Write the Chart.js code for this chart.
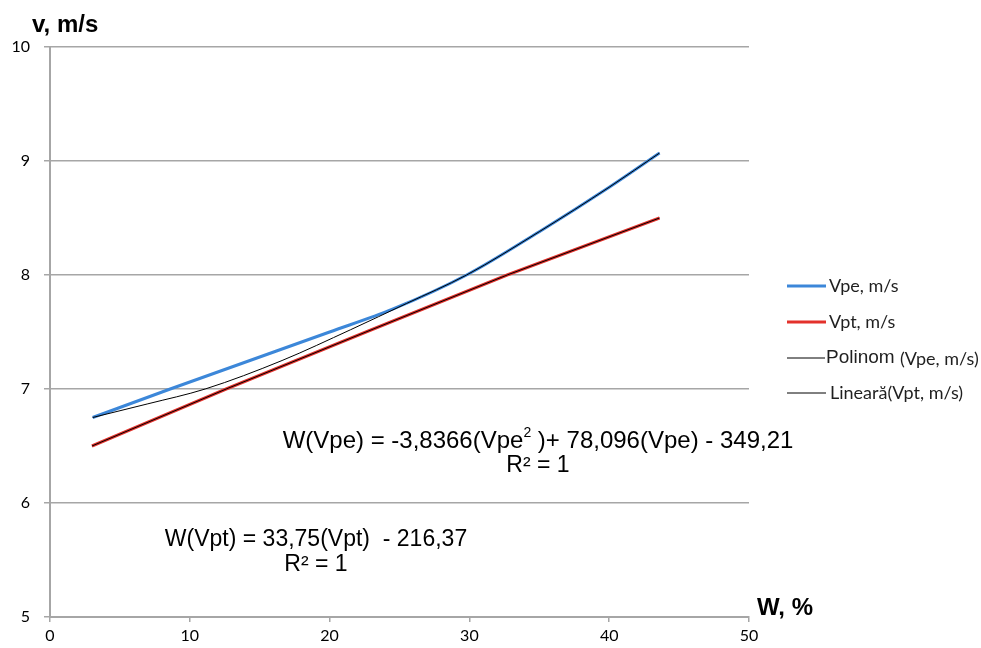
<!DOCTYPE html>
<html>
<head>
<meta charset="utf-8">
<script src="https://cdn.jsdelivr.net/npm/chart.js@4.4.0/dist/chart.umd.min.js"></script>
<style>
  body { margin: 0; background: #fff; }
  #wrap { width: 981px; height: 648px; }
</style>
</head>
<body>
<div id="wrap"><canvas id="chart" width="981" height="648"></canvas></div>
<script>
// W, % (x) and v, m/s (y)
const vpeW = [3.05, 8.6, 14.3, 20.0, 24.5, 29.8, 35.0, 40.0, 43.6];
const vpeV = [6.75, 7.0, 7.25, 7.5, 7.7, 8.0, 8.38, 8.77, 9.07];
const vptW = [3.0, 12.6, 22.6, 32.7, 43.6];
const vptV = [6.5, 7.0, 7.5, 8.0, 8.5];
// polynomial trendline on Vpe (thin black)
const polyW = [3.05, 7.0, 11.1, 16.6, 21.5, 25.5, 29.8, 35.0, 40.0, 43.6];
const polyV = [6.75, 6.87, 7.0, 7.25, 7.52, 7.75, 8.0, 8.38, 8.77, 9.07];
const xTicks = [0, 10, 20, 30, 40, 50];
const yTicks = [5, 6, 7, 8, 9, 10];
const seriesNames = ['Vpe, m/s', 'Vpt, m/s', 'Polinom', 'Lineară'];

const LATO = 'Lato, "Open Sans", sans-serif';
const ARIAL = '"Liberation Sans", Arial, sans-serif';
const GRID = '#a6a6a6';

const pts = (xs, ys) => xs.map((x, i) => ({ x: x, y: ys[i] }));

// legend, equations and axis titles
const extras = {
    id: 'extras',
    afterDraw(chart) {
        const ctx = chart.ctx;
        ctx.save();
        ctx.textBaseline = 'middle';
        ctx.textAlign = 'left';

        // legend
        const rows = [
            { y: 286, color: '#3c87d9', w: 3, x2: 826 },
            { y: 322, color: '#e3312b', w: 3, x2: 826 },
            { y: 358, color: '#000', w: 1, x2: 825 },
            { y: 393, color: '#000', w: 1, x2: 826 }
        ];
        rows.forEach(r => {
            ctx.strokeStyle = r.color;
            ctx.lineWidth = r.w;
            ctx.beginPath();
            ctx.moveTo(787, r.y);
            ctx.lineTo(r.x2, r.y);
            ctx.stroke();
        });
        ctx.fillStyle = '#1f1f1f';
        ctx.font = '18px ' + LATO;
        ctx.fillText(seriesNames[0], 829, 286);
        ctx.fillText(seriesNames[1], 829, 322);
        ctx.font = '19px ' + ARIAL;
        ctx.fillText(seriesNames[2], 826, 358);
        let px = 826 + ctx.measureText(seriesNames[2] + ' ').width;
        ctx.font = '18px ' + LATO;
        ctx.fillText('(Vpe, m/s)', px, 359);
        ctx.fillText(seriesNames[3] + '(Vpt, m/s)', 830, 393);

        // equations
        ctx.fillStyle = '#000';
        const big = '24px ' + ARIAL, small = '14px ' + ARIAL;
        ctx.font = big;
        const a = 'W(Vpe) = -3,8366(Vpe';
        const b = ' )+ 78,096(Vpe) - 349,21';
        const wa = ctx.measureText(a).width;
        const wb = ctx.measureText(b).width;
        ctx.font = small;
        const ws = ctx.measureText('2').width;
        let x0 = 538 - (wa + ws + wb) / 2;
        ctx.font = big;
        ctx.fillText(a, x0, 441);
        ctx.fillText(b, x0 + wa + ws, 441);
        ctx.font = small;
        ctx.fillText('2', x0 + wa, 433);
        ctx.font = '23px ' + ARIAL;
        ctx.textAlign = 'center';
        ctx.fillText('R² = 1', 538, 466);
        ctx.fillText('W(Vpt) = 33,75(Vpt)  - 216,37', 316, 540);
        ctx.fillText('R² = 1', 316, 565);

        // axis titles
        ctx.textAlign = 'left';
        ctx.font = 'bold 24px ' + ARIAL;
        ctx.fillText('v, m/s', 32, 25);
        ctx.fillText('W, %', 757, 608);
        ctx.restore();
    }
};

new Chart(document.getElementById('chart'), {
    type: 'scatter',
    data: {
        datasets: [
            { label: seriesNames[0], data: pts(vpeW, vpeV), showLine: true, borderColor: '#3c87d9',
              borderWidth: 3, pointRadius: 0, cubicInterpolationMode: 'monotone', order: 1 },
            { label: seriesNames[1], data: pts(vptW, vptV), showLine: true, borderColor: '#e3312b',
              borderWidth: 3, pointRadius: 0, tension: 0, order: 1 },
            { label: seriesNames[2], data: pts(polyW, polyV), showLine: true, borderColor: '#000',
              borderWidth: 1, pointRadius: 0, cubicInterpolationMode: 'monotone', order: 0 },
            { label: seriesNames[3], data: pts(vptW, vptV), showLine: true, borderColor: '#000',
              borderWidth: 1, pointRadius: 0, tension: 0, order: 0 }
        ]
    },
    options: {
        responsive: false,
        animation: false,
        layout: { padding: { top: 47, right: 232, left: 0, bottom: 0 } },
        plugins: { legend: { display: false }, tooltip: { enabled: false } },
        scales: {
            x: {
                type: 'linear', min: 0, max: 50,
                afterFit: s => { s.height = 31; },
                afterBuildTicks: s => { s.ticks = xTicks.map(v => ({ value: v })); },
                grid: { drawOnChartArea: false, color: GRID, tickLength: 5, lineWidth: 1.5 },
                border: { color: GRID, width: 2 },
                ticks: { padding: 4, color: '#000', font: { family: LATO, size: 16 } }
            },
            y: {
                type: 'linear', min: 5, max: 10,
                afterFit: s => { s.width = 50; },
                afterBuildTicks: s => { s.ticks = yTicks.map(v => ({ value: v })); },
                grid: { color: GRID, tickLength: 6, lineWidth: 1.5 },
                border: { color: GRID, width: 2 },
                ticks: { padding: 14, color: '#000', font: { family: LATO, size: 16 } }
            }
        }
    },
    plugins: [extras]
});
</script>
</body>
</html>
